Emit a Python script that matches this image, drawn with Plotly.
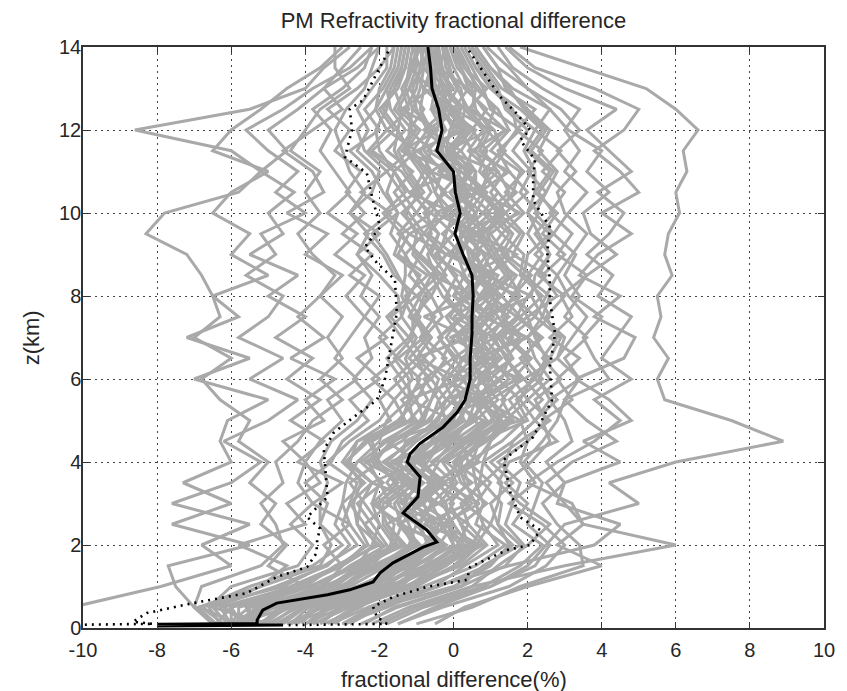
import plotly.graph_objects as go

# ---------------- data ----------------
heights = [0.1, 0.5, 1.0, 1.5, 2.0, 2.5, 3.0, 3.5, 4.0, 4.5, 5.0, 5.5, 6.0, 6.5,
           7.0, 7.5, 8.0, 8.5, 9.0, 9.5, 10.0, 10.5, 11.0, 11.5, 12.0, 12.5,
           13.0, 13.5, 14.0]

# individual profiles (fractional difference %, one value per height)
r1 = [-1.5, -0.5, 1.0, 2.0, 2.5, 3.0, 5.0, 4.2, 6.0, 8.9, 7.5, 5.7, 5.5, 5.8, 5.4, 5.6, 5.5, 5.9, 5.7, 5.8, 6.1, 6.0, 6.3, 6.2, 6.6, 6.0, 5.2, 3.5, 1.8]
r2 = [-2.0, -1.0, 0.5, 3.0, 6.0, 3.5, 3.0, 2.5, 3.2, 4.4, 3.6, 3.0, 4.2, 3.8, 3.5, 4.0, 3.2, 3.6, 4.4, 3.7, 3.5, 4.2, 3.6, 4.0, 3.1, 2.6, 2.0, 1.5, 0.9]
r3 = [-3.0, -1.8, -0.5, 1.5, 3.8, 4.5, 2.8, 3.0, 4.5, 3.5, 4.8, 4.2, 3.3, 4.6, 4.9, 3.8, 4.5, 3.4, 3.9, 4.8, 4.0, 5.0, 4.5, 3.8, 4.6, 5.0, 3.8, 2.2, 1.5]
l1 = [-6.0, -5.0, -3.5, -3.0, -3.5, -2.8, -3.8, -3.0, -4.2, -3.5, -4.4, -3.6, -4.5, -3.8, -4.8, -4.0, -5.0, -4.2, -5.5, -4.6, -5.0, -4.3, -5.2, -6.0, -8.6, -5.5, -4.0, -3.5, -2.8]
l2 = [-6.4, -6.0, -4.0, -5.0, -4.5, -5.2, -4.8, -5.5, -5.0, -5.8, -5.5, -6.3, -6.8, -6.0, -7.0, -6.3, -6.5, -6.8, -7.2, -8.3, -7.8, -5.8, -5.2, -4.5, -5.0, -4.2, -3.5, -3.0, -2.5]
l3 = [-11.0, -10.3, -7.9, -6.0, -6.8, -5.5, -7.6, -6.0, -5.2, -6.2, -5.0, -4.2, -5.5, -4.6, -5.8, -5.0, -4.6, -5.6, -4.8, -5.2, -4.0, -4.8, -4.2, -5.0, -5.6, -4.6, -3.8, -2.8, -2.2]
l4 = [-6.5, -7.0, -7.5, -7.7, -5.5, -7.6, -6.0, -7.3, -6.0, -6.3, -6.1, -5.0, -7.0, -5.5, -7.2, -5.8, -6.5, -5.0, -6.0, -5.5, -6.5, -6.0, -5.0, -6.5, -6.0, -5.2, -4.5, -3.6, -3.0]
l5 = [-5.0, -6.5, -5.2, -4.5, -5.8, -4.0, -4.5, -3.6, -4.0, -4.6, -3.5, -4.0, -3.2, -4.4, -3.5, -4.2, -3.6, -3.0, -4.0, -3.4, -4.5, -3.5, -3.8, -4.6, -3.8, -3.0, -3.5, -2.6, -2.0]
c01 = [-3.0, -2.2, -0.5, 0.3, 1.2, 0.8, 0.6, 1.0, 0.4, 1.3, 1.9, 1.5, 2.2, 1.8, 2.4, 1.7, 2.0, 2.5, 1.6, 1.9, 1.4, 2.0, 1.5, 1.2, 1.8, 1.0, 0.8, 0.5, 0.2]
c02 = [-5.7, -6.0, -4.0, -3.2, -2.0, -2.6, -2.5, -2.2, -2.9, -2.4, -1.5, -1.0, -1.4, -0.8, -1.2, -0.9, -1.3, -0.7, -1.5, -1.2, -1.8, -1.0, -1.4, -2.2, -1.6, -2.0, -1.5, -1.3, -1.2]
c03 = [-4.5, -3.5, -2.0, -0.8, -0.2, -1.5, -0.4, -1.2, -0.5, 0.0, 0.8, -0.2, 1.0, 0.2, 1.1, 0.0, 0.9, 1.2, 0.0, 0.6, -0.5, 0.7, -0.2, -1.0, 0.3, -0.6, 0.0, -0.4, -0.5]
c04 = [-2.0, -1.0, 0.8, 1.8, 2.4, 1.6, 2.0, 1.4, 2.1, 2.6, 2.4, 3.2, 2.8, 3.4, 2.6, 3.2, 2.9, 3.6, 2.8, 3.2, 2.6, 3.0, 2.4, 2.9, 2.2, 2.6, 1.6, 1.0, 0.6]
c05 = [-6.2, -6.8, -5.5, -3.8, -3.0, -3.6, -3.4, -4.0, -3.3, -3.0, -2.3, -2.8, -2.0, -2.6, -1.8, -2.4, -2.0, -2.8, -2.2, -3.0, -2.4, -2.9, -2.5, -3.2, -2.8, -3.4, -2.6, -2.0, -1.6]
c06 = [-4.0, -3.0, -1.2, -0.5, 0.4, 0.0, -0.3, 0.5, -0.2, 0.6, 1.2, 0.8, 1.5, 1.0, 1.6, 1.2, 0.8, 1.4, 1.0, 0.6, 1.2, 0.7, 1.0, 0.4, 0.8, 0.3, 0.2, -0.2, -0.3]
c07 = [-5.8, -4.5, -3.2, -2.4, -1.4, -1.8, -2.0, -1.5, -2.2, -1.6, -0.6, -0.4, -0.8, 0.0, -0.4, 0.2, -0.3, -0.6, -0.2, -0.8, -0.4, -1.0, -0.6, -1.4, -1.0, -1.3, -1.0, -0.9, -0.8]
c08 = [-3.5, -2.5, -1.8, -0.3, 0.8, 0.2, 0.9, 0.2, 0.0, 0.5, 1.5, 1.0, 0.8, 1.6, 1.3, 2.0, 1.6, 1.0, 1.4, 1.0, 1.7, 1.2, 0.8, 1.3, 1.1, 0.5, 0.6, 0.1, -0.1]
c09 = [-6.0, -5.2, -3.6, -2.8, -1.8, -2.2, -2.6, -1.9, -2.5, -1.8, -1.0, -1.4, -0.6, -1.2, -0.7, -1.1, -0.6, -1.0, -1.3, -0.8, -1.2, -1.6, -1.1, -1.8, -1.3, -1.7, -1.8, -1.5, -1.4]
c10 = [-2.5, -1.5, 0.2, 0.8, 1.8, 1.2, 1.0, 1.6, 1.0, 1.8, 2.6, 2.0, 2.6, 2.2, 2.0, 2.6, 2.3, 2.0, 2.4, 2.0, 2.3, 1.8, 2.1, 1.6, 2.0, 1.4, 1.2, 0.8, 0.4]
c11 = [-4.8, -4.0, -2.2, -1.2, -0.5, -0.6, -0.8, -0.3, -1.0, -0.2, 0.5, 0.8, 0.2, 0.9, 0.6, 0.9, 1.2, 0.6, 0.4, 0.3, 0.6, 0.2, 0.4, -0.2, -0.1, 0.2, -0.3, -0.6, -0.6]
c12 = [-5.2, -4.6, -2.8, -1.8, -1.0, -1.2, -1.5, -0.8, -1.6, -1.0, -0.2, 0.2, 0.0, 0.5, 0.2, -0.2, 0.4, 0.0, -0.4, -0.2, 0.0, -0.5, -0.3, -0.8, -0.6, -0.9, -0.8, -1.1, -1.0]
c13 = [-1.5, -0.3, 1.5, 2.5, 3.0, 2.4, 1.5, 2.2, 1.8, 2.0, 1.8, 2.4, 1.9, 2.8, 3.0, 2.4, 2.6, 1.9, 2.0, 2.6, 2.0, 2.5, 2.8, 2.3, 2.6, 2.0, 1.4, 1.2, 0.8]
c14 = [-5.9, -6.8, -4.6, -3.5, -2.6, -3.0, -2.8, -2.6, -3.4, -2.8, -2.0, -1.6, -2.2, -1.5, -2.0, -1.4, -1.5, -2.0, -2.6, -2.0, -2.8, -2.2, -2.0, -2.6, -2.3, -2.6, -2.2, -1.8, -1.8]
c15 = [-4.2, -3.8, -1.5, -1.0, 0.0, -0.3, -0.6, 0.0, -0.6, 0.2, 0.9, 0.5, 1.2, 0.6, 0.9, 0.4, 1.0, 0.8, 0.6, 1.0, 0.4, 0.8, 0.2, 0.0, 0.5, 0.0, -0.4, -0.3, -0.4]
c16 = [-5.5, -5.5, -3.0, -2.0, -1.2, -1.0, -1.8, -1.0, -1.8, -1.2, -0.4, -0.2, 0.3, -0.3, 0.0, 0.6, 0.0, 0.3, -0.6, -0.4, -0.8, -0.2, -0.8, -0.6, -1.2, -0.8, -1.2, -0.8, -0.9]
c17 = [-1.0, 0.5, 1.8, 3.5, 3.4, 2.8, 2.4, 3.0, 2.5, 3.2, 3.0, 2.6, 3.4, 3.0, 3.6, 3.0, 3.4, 3.0, 3.3, 2.7, 3.1, 3.6, 3.0, 3.4, 3.0, 3.4, 2.4, 1.6, 1.2]
c18 = [-6.3, -6.6, -6.0, -4.2, -3.8, -4.4, -3.8, -4.2, -4.0, -3.6, -3.0, -3.4, -2.6, -3.2, -2.8, -2.4, -2.9, -2.4, -3.2, -2.6, -3.4, -2.8, -3.2, -3.6, -3.3, -3.8, -3.0, -2.4, -2.2]
c19 = [-5.0, -4.2, -2.5, -1.5, -0.8, -0.2, -1.2, -0.6, -1.3, -0.5, 0.3, 0.0, 0.6, 1.2, 0.4, 1.0, 0.4, 0.9, 0.2, -0.3, 0.3, -0.1, 0.5, -0.4, 0.0, -0.3, -0.6, -0.7, -0.7]
c20 = [-3.8, -2.8, -1.0, 0.0, 0.6, 1.0, 0.3, 0.7, 0.8, 1.0, 1.2, 1.8, 1.2, 2.0, 1.4, 1.4, 1.8, 1.5, 1.1, 1.5, 0.9, 1.5, 1.2, 0.8, 1.4, 0.8, 0.4, 0.2, 0.0]
c21 = [-5.5, -5.0, -3.4, -2.5, -1.6, -1.4, -2.2, -1.6, -2.0, -2.2, -1.2, -0.7, -1.0, -0.5, -0.9, -0.5, -1.0, -0.4, -1.0, -1.4, -0.6, -1.2, -1.6, -1.0, -1.8, -1.2, -1.4, -1.1, -1.0]
c22 = [-4.4, -3.2, -1.6, -0.6, 0.2, -0.4, 0.0, -0.4, 0.2, 0.8, 0.6, 1.2, 0.7, 1.3, 0.8, 1.5, 0.7, 1.1, 0.8, 0.4, 1.0, 0.4, 0.6, 0.2, 0.6, -0.2, 0.1, -0.2, -0.2]
c23 = [-6.0, -6.3, -4.3, -3.0, -2.4, -2.8, -3.0, -2.9, -2.6, -2.0, -1.8, -1.2, -1.6, -1.0, -1.4, -1.8, -1.2, -1.5, -1.8, -2.2, -1.5, -1.9, -2.2, -2.8, -2.0, -2.4, -1.9, -1.6, -1.5]
c24 = [-2.2, -1.2, 0.5, 1.2, 2.0, 2.6, 1.8, 1.2, 1.5, 2.8, 2.2, 2.8, 2.2, 2.5, 2.2, 2.0, 2.8, 2.4, 3.0, 2.4, 2.8, 2.2, 2.6, 2.0, 2.4, 1.8, 1.0, 0.6, 0.3]
c25 = [-0.5, 0.3, 2.0, 4.0, 2.8, 3.5, 3.2, 2.0, 2.8, 3.8, 4.5, 3.8, 4.8, 4.0, 4.4, 4.8, 3.9, 4.3, 3.6, 4.2, 4.6, 3.9, 4.8, 4.2, 3.6, 4.4, 3.0, 2.0, 1.4]
c26 = [-6.5, -7.0, -6.8, -5.2, -4.6, -4.8, -5.2, -4.6, -4.8, -4.2, -3.8, -3.0, -3.6, -3.0, -3.4, -3.0, -3.6, -3.2, -3.8, -4.2, -3.6, -4.0, -3.6, -4.4, -4.0, -3.6, -2.8, -3.2, -3.2]
c27 = [-4.6, -4.0, -2.0, -1.0, -0.2, -0.9, -0.6, -1.1, -0.7, -0.3, 0.6, 0.0, 0.9, 0.3, 0.5, 1.0, 0.4, 0.9, 0.6, 0.0, 0.6, 0.0, 0.4, -0.5, 0.1, -0.3, -0.2, -0.5, -0.4]
c28 = [-5.6, -5.0, -2.9, -2.1, -0.9, -1.4, -1.0, -1.6, -1.2, -0.6, -0.3, 0.4, -0.2, 0.3, 0.6, -0.1, 0.3, 0.8, -0.1, 0.3, -0.2, 0.4, -0.4, -0.1, -0.8, -0.2, -0.8, -0.6, -0.8]
c29 = [-3.2, -2.6, -1.2, 0.2, 0.9, 0.4, 0.2, 0.8, 0.0, 0.9, 1.4, 2.0, 1.6, 2.1, 1.5, 2.2, 1.6, 2.1, 1.4, 1.8, 1.2, 1.6, 1.8, 1.0, 1.5, 1.2, 0.6, 0.4, 0.1]
c30 = [-5.8, -5.8, -3.8, -2.6, -2.2, -2.0, -2.4, -2.8, -2.0, -2.3, -1.1, -1.2, -0.9, -1.5, -0.8, -1.0, -0.7, -1.2, -0.9, -1.5, -1.0, -1.4, -1.8, -1.2, -1.5, -1.9, -1.6, -1.4, -1.3]
c31 = [-3.9, -3.3, -1.4, -0.8, 0.3, -0.2, 0.5, -0.1, 0.4, 0.2, 1.0, 1.4, 1.0, 1.6, 1.2, 1.8, 1.3, 1.7, 0.9, 1.3, 0.8, 1.2, 0.7, 0.9, 0.5, 0.9, 0.3, 0.0, -0.2]
c32 = [-5.3, -5.4, -3.5, -2.2, -1.7, -1.6, -2.1, -1.3, -2.4, -1.4, -0.8, -0.6, -0.2, -0.8, -0.3, -0.6, -0.1, -0.5, -0.7, -0.4, -1.0, -0.6, -0.9, -1.3, -0.9, -1.5, -1.2, -1.0, -1.0]
c33 = [-2.8, -2.0, 0.0, 1.0, 1.5, 1.2, 1.3, 0.8, 1.4, 1.6, 2.2, 2.6, 2.3, 2.6, 2.9, 2.2, 2.5, 2.8, 2.2, 2.7, 2.2, 2.5, 2.0, 2.4, 1.7, 2.2, 1.3, 0.9, 0.5]
c34 = [-6.1, -6.5, -4.8, -3.4, -2.8, -3.2, -3.0, -2.4, -3.0, -2.6, -1.7, -2.0, -1.4, -1.8, -1.2, -1.7, -1.0, -1.6, -1.9, -2.4, -1.7, -2.5, -1.8, -2.4, -2.6, -2.1, -2.0, -1.7, -1.6]
c35 = [-4.3, -3.6, -1.9, -1.4, -0.4, 0.0, -0.9, -0.2, -0.9, 0.0, 0.4, 1.0, 0.8, 1.1, 0.7, 1.2, 0.8, 1.0, 0.5, 0.8, 0.3, 0.6, 0.6, -0.1, 0.4, -0.1, -0.1, -0.3, -0.5]
c36 = [-5.9, -4.8, -3.0, -2.2, -1.0, -1.5, -1.3, -1.8, -1.4, -1.3, -0.2, -0.4, 0.1, 0.2, -0.2, 0.2, 0.2, -0.3, 0.0, -0.7, -0.2, -0.5, -0.7, -1.1, -0.7, -1.0, -1.1, -0.9, -1.1]
c37 = [-3.3, -2.3, -0.8, 0.6, 1.4, 0.6, 0.8, 0.6, 0.5, 0.7, 2.0, 1.7, 2.4, 1.9, 2.3, 1.8, 2.4, 1.8, 1.9, 1.3, 1.9, 1.4, 1.9, 1.3, 1.7, 1.6, 1.0, 0.6, 0.3]
c38 = [-5.6, -6.2, -4.2, -3.0, -2.1, -2.4, -2.8, -2.2, -2.8, -2.6, -1.3, -1.6, -1.1, -1.3, -1.0, -1.4, -1.2, -0.9, -1.6, -1.4, -1.9, -1.3, -1.6, -2.0, -2.1, -1.8, -1.7, -1.4, -1.3]
c39 = [-5.3, -4.4, -2.4, -1.6, -0.6, -1.0, -0.5, -1.4, -1.0, -0.8, 0.1, 0.5, 0.3, 0.7, 0.1, 0.8, 0.2, 0.6, 0.5, 0.0, 0.4, -0.3, 0.2, -0.7, -0.2, -0.5, -0.4, -0.8, -0.7]
c40 = [-1.8, -0.8, 1.0, 2.2, 2.6, 2.0, 2.2, 2.4, 1.9, 2.4, 2.8, 3.0, 3.4, 2.8, 3.2, 3.6, 3.1, 2.8, 3.2, 3.6, 3.0, 2.8, 3.3, 2.8, 3.4, 2.9, 2.0, 1.2, 0.8]
c41 = [-6.4, -6.9, -5.2, -3.6, -3.3, -3.6, -3.6, -3.4, -3.6, -3.3, -2.6, -2.2, -2.7, -2.2, -2.4, -2.0, -2.5, -2.2, -2.6, -2.3, -2.8, -2.4, -2.8, -3.0, -3.2, -2.9, -2.4, -2.2, -2.0]
c42 = [-4.0, -3.4, -1.3, -0.2, 0.6, -0.8, 0.4, -0.6, 0.6, 1.0, 1.6, 0.4, 1.8, 0.6, 2.0, 0.8, 1.8, 0.4, 1.5, 0.2, 1.4, 0.6, 1.2, -0.2, 1.0, 0.0, 0.4, -0.4, -0.2]
c43 = [-5.7, -5.2, -3.3, -2.6, -1.3, -1.8, -0.8, -2.2, -1.0, -1.8, 0.0, -1.2, 0.2, -1.0, 0.4, -0.8, 0.6, -0.6, -0.2, -1.2, 0.0, -1.2, 0.0, -1.4, -0.4, -1.4, -0.6, -1.2, -0.9]
c44 = [-3.6, -3.0, -1.6, -0.4, 0.5, 0.8, 0.6, 0.3, 0.1, 0.7, 1.3, 1.0, 1.9, 1.4, 1.1, 1.7, 1.0, 1.6, 1.2, 0.9, 1.4, 1.0, 1.4, 0.7, 1.0, 0.6, 0.5, 0.2, -0.1]
c45 = [-5.4, -5.6, -3.0, -2.3, -1.9, -2.4, -1.7, -2.0, -2.3, -1.9, -0.9, -0.6, -0.4, -1.0, -0.6, -1.0, -0.8, -0.2, -0.6, -0.9, -1.4, -0.8, -1.2, -1.5, -1.1, -1.6, -1.3, -1.2, -1.1]
c46 = [-4.9, -4.3, -2.6, -1.1, -0.5, -0.5, -1.4, -0.9, -1.5, -0.6, 0.2, 0.4, 0.5, 0.0, 0.8, 0.3, 0.7, 0.2, 0.7, 0.4, 0.0, 0.3, -0.1, -0.3, -0.5, 0.0, -0.5, -0.5, -0.6]
c47 = [-4.4, -3.9, -2.1, -1.3, -0.3, -0.7, -1.0, -0.4, -0.8, -0.4, 0.5, 0.9, 0.4, 1.0, 0.3, 0.7, 1.1, 0.5, 0.9, 0.2, 0.8, 0.1, 0.5, 0.0, 0.2, -0.4, -0.1, -0.4, -0.5]
c48 = [-5.6, -4.9, -3.1, -1.9, -1.1, -1.4, -1.6, -1.1, -1.9, -1.1, -0.5, 0.0, -0.3, 0.1, -0.4, 0.3, -0.2, 0.1, -0.5, 0.0, -0.6, -0.3, -0.6, -0.9, -0.5, -1.1, -0.9, -0.8, -0.9]
c49 = [-3.4, -2.7, -1.3, -0.2, 0.4, 0.2, -0.1, 0.4, 0.2, 0.8, 1.6, 1.3, 1.8, 1.4, 1.9, 1.3, 1.6, 1.9, 1.3, 1.6, 1.1, 1.7, 1.0, 1.4, 0.9, 1.1, 0.7, 0.3, 0.1]
c50 = [-6.1, -5.5, -3.9, -2.7, -1.6, -2.0, -2.2, -2.0, -2.3, -1.6, -0.8, -1.0, -0.7, -1.0, -0.6, -1.2, -0.9, -0.6, -1.1, -1.0, -1.3, -0.9, -1.3, -1.6, -1.5, -1.4, -1.6, -1.3, -1.2]
c51 = [-2.4, -1.6, 0.2, 1.4, 1.9, 1.4, 1.6, 1.8, 1.2, 2.0, 2.5, 2.2, 2.9, 2.4, 2.8, 2.5, 3.0, 2.3, 2.6, 2.2, 2.7, 2.3, 2.7, 2.1, 2.5, 1.9, 1.5, 1.0, 0.6]
c52 = [-5.1, -4.5, -2.3, -1.8, -0.3, -1.4, -0.9, -0.3, -1.7, -0.4, -0.3, 0.8, -0.2, 1.0, -0.1, 1.1, 0.0, 1.0, -0.2, 0.7, -0.3, 0.6, -0.6, 0.2, -0.7, 0.1, -0.8, -0.4, -0.6]
c53 = [-3.8, -3.5, -1.7, -0.7, 0.1, 0.4, -0.4, 0.1, -0.3, 0.4, 1.3, 0.6, 1.3, 1.5, 1.0, 1.4, 1.0, 1.5, 1.1, 0.8, 1.3, 0.8, 0.9, 0.6, 0.9, 0.4, 0.1, -0.1, -0.2]
c54 = [-5.9, -5.3, -3.2, -2.5, -1.5, -1.9, -1.9, -1.2, -2.1, -1.7, -0.7, -0.2, -0.6, -0.2, -0.8, -0.3, -0.6, -0.3, -0.9, -0.6, -0.7, -1.1, -0.8, -1.2, -1.2, -1.1, -1.3, -1.1, -0.9]
c55 = [-2.9, -2.1, -0.4, 0.9, 1.6, 1.0, 1.2, 1.3, 0.8, 1.6, 2.2, 1.8, 2.1, 2.6, 2.0, 2.4, 2.1, 2.2, 2.6, 2.3, 2.0, 2.2, 2.2, 1.9, 2.2, 1.5, 1.1, 0.7, 0.5]
c56 = [-5.2, -4.7, -2.6, -1.4, -0.7, -0.9, -1.3, -1.0, -1.1, -0.5, 0.0, 0.2, 0.6, 0.4, 0.3, 0.5, 0.7, 0.3, 0.1, 0.2, 0.1, 0.2, -0.2, -0.3, -0.3, -0.6, -0.5, -0.6, -0.7]
c57 = [-4.1, -3.7, -1.8, -1.1, 0.0, -0.1, -0.2, -0.7, -0.4, 0.3, 1.1, 0.7, 1.0, 0.8, 1.2, 0.7, 1.3, 0.7, 1.0, 0.7, 0.6, 0.9, 0.3, 0.5, 0.2, 0.3, -0.2, -0.1, -0.3]
c58 = [-6.0, -6.0, -4.4, -3.1, -2.3, -2.6, -2.7, -2.5, -2.9, -2.3, -1.4, -1.2, -1.2, -1.6, -1.1, -1.1, -1.4, -1.3, -1.3, -1.7, -1.5, -1.8, -1.6, -2.3, -1.8, -2.1, -1.8, -1.5, -1.4]
c59 = [-3.6, -3.1, -1.3, 0.1, 0.7, -0.3, 0.7, -0.3, 0.7, 0.0, 1.8, 0.8, 1.7, 0.7, 1.8, 0.9, 2.1, 0.9, 1.7, 0.6, 1.8, 0.7, 1.5, 0.5, 1.4, 0.4, 0.9, 0.3, 0.0]
c60 = [-4.7, -4.1, -2.3, -1.3, -0.6, -0.4, -1.1, -0.5, -1.2, -0.1, 0.4, 0.6, 0.7, 0.5, 0.9, 0.5, 0.5, 0.8, 0.2, 0.5, 0.3, 0.4, 0.1, -0.2, 0.3, -0.2, -0.3, -0.4, -0.5]

profiles = [r1, r2, r3, l1, l2, l3, l4, l5,
            c01, c02, c03, c04, c05, c06, c07, c08, c09, c10, c11, c12, c13,
            c14, c15, c16, c17, c18, c19, c20, c21, c22, c23, c24, c25, c26,
            c27, c28, c29, c30, c31, c32, c33, c34, c35, c36, c37, c38, c39,
            c40, c41, c42, c43, c44, c45, c46, c47, c48, c49, c50, c51, c52,
            c53, c54, c55, c56, c57, c58, c59, c60]

# mean profile (solid black)
mean_z = [0.05, 0.07, 0.09, 0.11, 0.19, 0.43, 0.6, 0.8, 0.92, 1.11, 1.33, 1.57,
          1.95, 2.07, 2.36, 2.77, 3.16, 3.64, 4.0, 4.2, 4.45, 4.84, 5.2, 5.49,
          6.0, 6.5, 7.1, 7.5, 8.0, 8.5, 9.0, 9.5, 10.0, 10.5, 11.0, 11.5, 12.0,
          12.5, 13.0, 13.5, 14.0]
mean_x = [-8.0, -4.6, -8.0, -5.3, -5.3, -5.15, -4.77, -3.4, -2.8, -2.17, -1.98,
          -1.63, -0.82, -0.45, -0.72, -1.36, -0.96, -0.9, -1.25, -1.17, -0.9,
          -0.28, 0.1, 0.31, 0.45, 0.45, 0.5, 0.5, 0.53, 0.5, 0.26, 0.04, 0.18,
          0.05, 0.0, -0.45, -0.31, -0.4, -0.58, -0.62, -0.69]

# mean - std (dotted, left)
lo_z = [0.08, 0.1, 0.15, 0.36, 0.6, 0.84, 1.23, 1.47, 1.8, 2.12, 2.4, 2.67,
        3.16, 3.73, 4.29, 4.7, 5.08, 5.49, 6.0, 6.5, 7.1, 7.59, 8.39, 8.8, 9.18,
        9.66, 10.4, 10.96, 11.35, 12.0, 12.5, 12.72, 13.37, 14.0]
lo_x = [-9.95, -8.1, -8.65, -8.28, -7.03, -5.58, -4.77, -3.95, -3.7, -3.68,
        -3.6, -3.95, -3.4, -3.46, -3.5, -3.24, -2.7, -2.07, -1.85, -1.75, -1.63,
        -1.53, -1.58, -2.07, -2.39, -1.98, -2.2, -2.34, -2.93, -2.74, -2.8,
        -2.44, -2.07, -1.7]

# mean + std (dotted, right)
hi_z = [0.07, 0.1, 0.27, 0.51, 0.75, 0.99, 1.16, 1.47, 1.88, 2.0, 2.36, 2.67,
        3.25, 4.05, 4.6, 5.49, 6.29, 7.1, 7.9, 8.39, 9.04, 9.66, 10.3, 10.8,
        11.28, 11.76, 12.0, 12.4, 12.8, 13.28, 13.93, 14.0]
hi_x = [-4.45, -1.8, -2.07, -2.17, -1.63, -0.72, 0.36, 0.45, 1.45, 2.07, 2.34,
        1.8, 1.54, 1.35, 2.15, 2.66, 2.6, 2.74, 2.6, 2.6, 2.53, 2.6, 2.15, 2.15,
        2.2, 1.8, 2.07, 1.7, 1.26, 0.9, 0.4, 0.35]

x_ticks = [-10, -8, -6, -4, -2, 0, 2, 4, 6, 8, 10]
y_ticks = [0, 2, 4, 6, 8, 10, 12, 14]

title_text = "PM Refractivity fractional difference"
x_title = "fractional difference(%)"
y_title = "z(km)"

# ---------------- figure ----------------
GRAY = "#a9a9a9"
FONT = "Liberation Sans, Arial, sans-serif"
TXT = "#262626"

fig = go.Figure()
for p in profiles:
    fig.add_trace(go.Scatter(x=p, y=heights, mode="lines",
                             line=dict(color=GRAY, width=3),
                             hoverinfo="skip", showlegend=False))

for xs, zs in ((lo_x, lo_z), (hi_x, hi_z)):
    fig.add_trace(go.Scatter(x=xs, y=zs, mode="lines",
                             line=dict(color="black", width=2.6, dash="2px,5px"),
                             hoverinfo="skip", showlegend=False))
fig.add_trace(go.Scatter(x=mean_x, y=mean_z, mode="lines",
                         line=dict(color="black", width=3),
                         hoverinfo="skip", showlegend=False))

axis_common = dict(
    showline=True, linecolor="#333333", linewidth=1.5, mirror="ticks",
    ticks="inside", ticklen=6, tickwidth=1.2, tickcolor="#333333",
    showgrid=True, gridcolor="#444444", gridwidth=1, griddash="2px,4px",
    zeroline=False,
    tickfont=dict(family=FONT, size=20, color=TXT),
)

fig.update_xaxes(range=[-10, 10], tickvals=x_ticks,
                 ticktext=[str(v) for v in x_ticks], ticklabelstandoff=3,
                 **axis_common)
fig.update_yaxes(range=[0, 14], tickvals=y_ticks,
                 ticktext=[str(v) for v in y_ticks], ticklabelstandoff=-4,
                 **axis_common)

fig.update_layout(
    width=847, height=691, autosize=False,
    margin=dict(l=83, r=23, t=47, b=63),
    paper_bgcolor="white", plot_bgcolor="white",
    title=dict(text=title_text, x=0.5354, xanchor="center",
               y=1 - 20 / 691, yanchor="middle",
               font=dict(family=FONT, size=22, color=TXT)),
    annotations=[
        dict(text=x_title, xref="paper", yref="paper", x=0.5, y=-0.088,
             xanchor="center", yanchor="middle", showarrow=False,
             font=dict(family=FONT, size=22, color=TXT)),
        dict(text=y_title, xref="paper", yref="paper", x=-0.069, y=0.5,
             xanchor="center", yanchor="middle", showarrow=False,
             textangle=-90, font=dict(family=FONT, size=22, color=TXT)),
    ],
)

fig.write_html("out.html", config={"displayModeBar": False},
               post_script="document.body.style.margin='0';")
